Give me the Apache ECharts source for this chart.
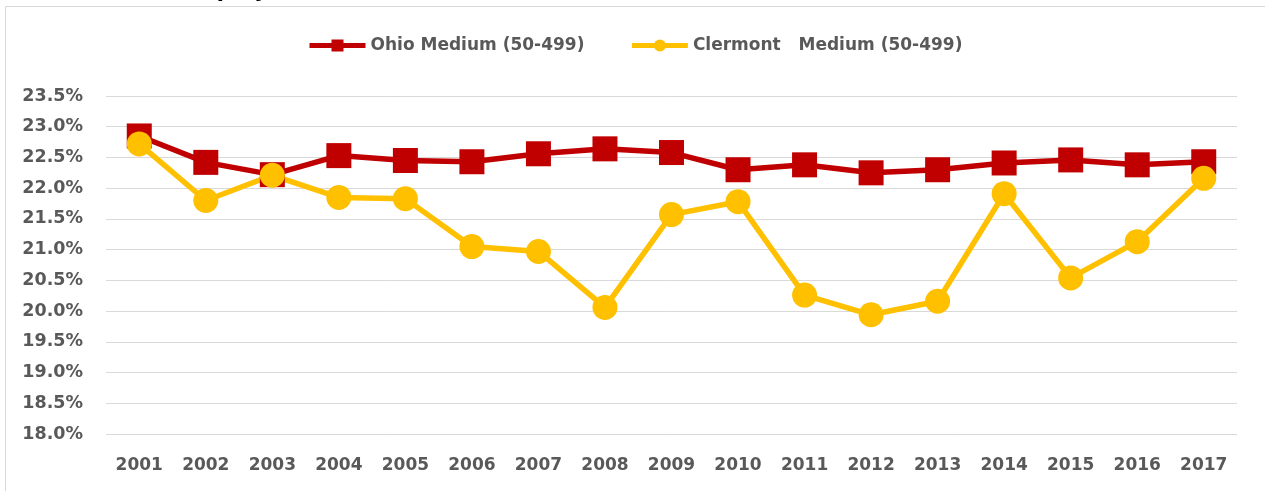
<!DOCTYPE html>
<html>
<head>
<meta charset="utf-8">
<script src="https://cdn.jsdelivr.net/npm/echarts@6/dist/echarts.min.js"></script>
<style>
  html, body { margin: 0; padding: 0; background: #fff; }
  #chart { width: 1265px; height: 491px; }
</style>
</head>
<body>
<div id="chart"></div>
<script>
  // years on the category axis
  const years = ['2001', '2002', '2003', '2004', '2005', '2006', '2007', '2008', '2009',
    '2010', '2011', '2012', '2013', '2014', '2015', '2016', '2017']
  // share of employment, percent
  const ohioMedium = [22.85, 22.42, 22.22, 22.53, 22.45, 22.43, 22.56, 22.64, 22.58,
    22.30, 22.38, 22.25, 22.30, 22.41, 22.46, 22.38, 22.43]
  const clermontMedium = [22.72, 21.80, 22.21, 21.85, 21.83, 21.05, 20.97, 20.06, 21.57,
    21.78, 20.26, 19.94, 20.16, 21.91, 20.54, 21.13, 22.16]
  const seriesNames = ['Ohio Medium (50-499)', 'Clermont   Medium (50-499)']

  const textColor = '#595959'
  const fontFamily = 'DejaVu Sans'

  const chartDom = document.getElementById('chart')
  const lineChart = echarts.init(chartDom)

  const option = {
    animation: false,
    backgroundColor: '#fff',
    graphic: [
      {
        type: 'rect',
        shape: { x: 5.5, y: 6.5, width: 1400, height: 600 },
        style: { fill: 'none', stroke: '#d9d9d9', lineWidth: 1 },
        silent: true,
      },
      {
        // title is cut off at the top of the picture, only descenders show
        type: 'text',
        x: 178,
        y: 0,
        style: {
          text: 'Employment',
          font: 'bold 25px "Open Sans"',
          fill: '#000',
          verticalAlign: 'bottom',
        },
        silent: true,
      },
    ],
    legend: {
      data: seriesNames,
      left: 302,
      top: 32,
      itemWidth: 56,
      itemHeight: 15,
      itemGap: 45,
      lineStyle: { width: 5 },
      textStyle: {
        color: textColor,
        fontFamily: fontFamily,
        fontWeight: 'bold',
        fontSize: 17,
      },
    },
    grid: {
      left: 106,
      right: 28,
      top: 96,
      bottom: 57,
      containLabel: false,
    },
    xAxis: {
      type: 'category',
      data: years,
      boundaryGap: true,
      axisLine: { show: false },
      axisTick: { show: false },
      axisLabel: {
        color: textColor,
        fontFamily: fontFamily,
        fontWeight: 'bold',
        fontSize: 17,
        margin: 23,
      },
    },
    yAxis: {
      type: 'value',
      min: 18,
      max: 23.5,
      interval: 0.5,
      axisLine: { show: false },
      axisTick: { show: false },
      splitLine: { lineStyle: { color: '#d9d9d9', width: 1 } },
      axisLabel: {
        color: textColor,
        fontFamily: fontFamily,
        fontWeight: 'bold',
        fontSize: 17.5,
        margin: 23,
        formatter: (v) => v.toFixed(1) + '%',
      },
    },
    series: [
      {
        name: seriesNames[0],
        type: 'line',
        data: ohioMedium,
        symbol: 'rect',
        symbolSize: 25,
        color: '#C00000',
        lineStyle: { width: 5.5, color: '#C00000' },
        itemStyle: { color: '#C00000' },
      },
      {
        name: seriesNames[1],
        type: 'line',
        data: clermontMedium,
        symbol: 'circle',
        symbolSize: 25,
        color: '#FFC000',
        lineStyle: { width: 5.5, color: '#FFC000' },
        itemStyle: { color: '#FFC000' },
      },
    ],
  }

  lineChart.setOption(option)
</script>
</body>
</html>
